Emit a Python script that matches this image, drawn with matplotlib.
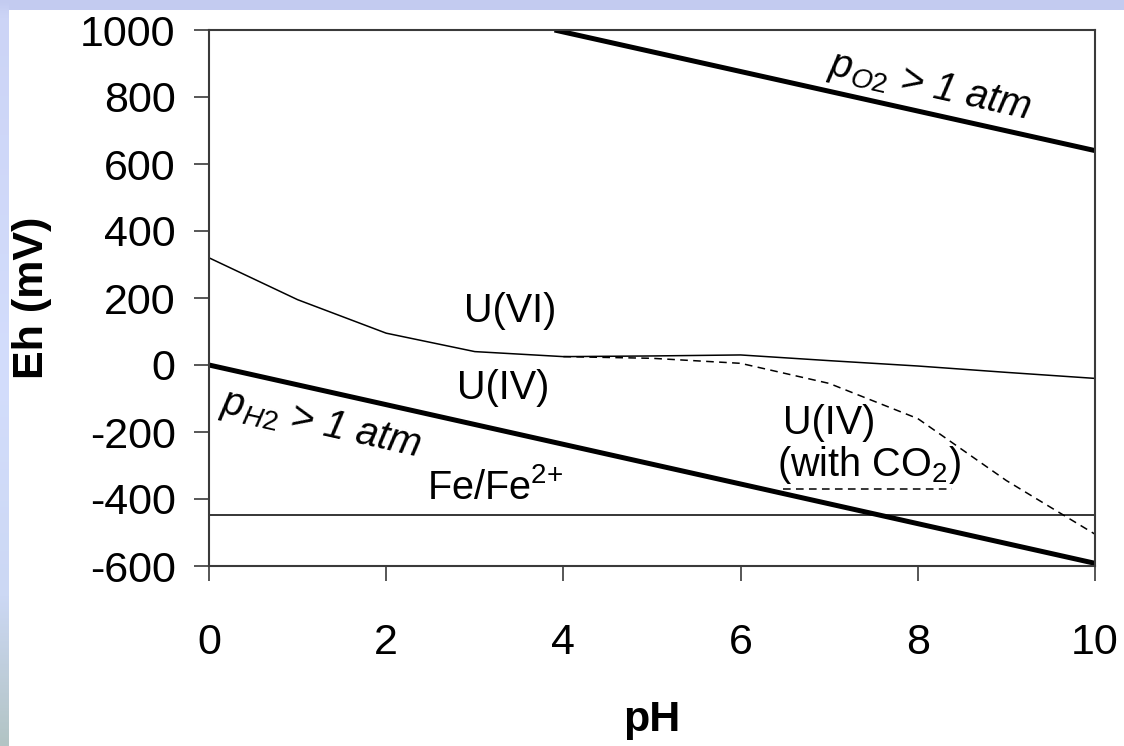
import matplotlib
matplotlib.use("Agg")
import matplotlib.pyplot as plt
import numpy as np
from matplotlib.colors import LinearSegmentedColormap

plt.rcParams['font.family'] = ['Liberation Sans', 'DejaVu Sans']
plt.rcParams['mathtext.fontset'] = 'custom'
plt.rcParams['mathtext.rm'] = 'Liberation Sans'
plt.rcParams['mathtext.it'] = 'Liberation Sans:italic'
plt.rcParams['mathtext.bf'] = 'Liberation Sans:bold'
plt.rcParams['axes.unicode_minus'] = False

# water stability limits
ph_o2 = [3.9, 10]
eh_o2 = [1000, 640]
ph_h2 = [0, 10]
eh_h2 = [0, -592]

# U(VI)/U(IV) boundary
ph_u = [0, 1, 2, 3, 4, 5, 6, 7, 8, 9, 10]
eh_u = [320, 195, 95, 40, 25, 27, 30, 13, -3, -22, -40]

# U(VI)/U(IV) boundary with CO2 present
ph_co2 = [4, 5, 6, 7, 8, 9, 10]
eh_co2 = [25, 20, 5, -55, -160, -345, -505]
ph_co2_key = [6.48, 8.39]
eh_co2_key = [-370, -370]

# Fe/Fe2+ couple
ph_fe = [0, 10]
eh_fe = [-447, -447]

x_ticks = [0, 2, 4, 6, 8, 10]
y_ticks = [-600, -400, -200, 0, 200, 400, 600, 800, 1000]

W, H = 1124, 746
fig = plt.figure(figsize=(W / 100, H / 100), dpi=100, facecolor='white')

# slide background strips
top = fig.add_axes([0, 1 - 10 / H, 1, 10 / H])
top.set_axis_off()
top.add_patch(plt.Rectangle((0, 0), 1, 1, color='#c3cbf0', transform=top.transAxes))
side = fig.add_axes([0, 0, 9 / W, 1])
side.set_axis_off()
cmap = LinearSegmentedColormap.from_list(
    'slide', [(0, '#b2c4c4'), (0.2, '#ccd8f4'), (0.5, '#d3ddfc'), (0.98, '#ccd4f6'), (1, '#c3cbf0')])
side.imshow(np.linspace(0, 1, 256).reshape(-1, 1), aspect='auto', cmap=cmap, origin='lower',
            extent=[0, 1, 0, 1])

ax = fig.add_axes([209 / W, 180 / H, 886 / W, 536 / H])
ax.plot(ph_o2, eh_o2, color='black', lw=3.6, solid_capstyle='butt')
ax.plot(ph_h2, eh_h2, color='black', lw=3.6, solid_capstyle='butt')
ax.plot(ph_u, eh_u, color='black', lw=1.1)
ax.plot(ph_co2, eh_co2, color='black', lw=1.1, ls=(0, (5, 3.5)))
ax.plot(ph_co2_key, eh_co2_key, color='black', lw=1.1, ls=(0, (5, 3.5)))
ax.plot(ph_fe, eh_fe, color='black', lw=1.1)

ax.set_xlim(0, 10)
ax.set_ylim(-600, 1000)
ax.set_xticks(x_ticks)
ax.set_yticks(y_ticks)
ax.tick_params(axis='both', direction='out', length=11, width=1.2, color='#3a3a3a', labelsize=31)
ax.tick_params(axis='y', pad=13)
ax.tick_params(axis='x', pad=30)
for s in ax.spines.values():
    s.set_color('#3a3a3a')
    s.set_linewidth(1.5)

ax.set_xlabel('pH', fontsize=31, fontweight='bold')
ax.xaxis.set_label_coords(0.5, -(700 - 566) / 536)
ax.xaxis.label.set_va('top')
ax.set_ylabel('Eh (mV)', fontsize=31, fontweight='bold')
ax.yaxis.set_label_coords(-(209 - 52) / 886, 0.5)

fs = 28.5
ang = -12.6
ax.text(3.4, 161, 'U(VI)', fontsize=fs, ha='center', va='center')
ax.text(3.32, -69, 'U(IV)', fontsize=fs, ha='center', va='center')
ax.text(3.23, -367, 'Fe/Fe$^{2{+}}$', fontsize=fs, ha='center', va='center')
ax.text(1.26, -179, r'$\mathit{p}_{\mathit{H2}}$ > 1 atm', fontsize=fs, style='italic',
        ha='center', va='center', rotation=ang, rotation_mode='anchor')
ax.text(8.13, 830, r'$\mathit{p}_{\mathit{O2}}$ > 1 atm', fontsize=fs, style='italic',
        ha='center', va='center', rotation=ang, rotation_mode='anchor')
ax.text(6.48, -173, 'U(IV)', fontsize=fs, ha='left', va='center')
ax.text(6.41, -299, '(with CO$_2$)', fontsize=fs, ha='left', va='center')

fig.savefig('out.png', dpi=100, facecolor='white')
